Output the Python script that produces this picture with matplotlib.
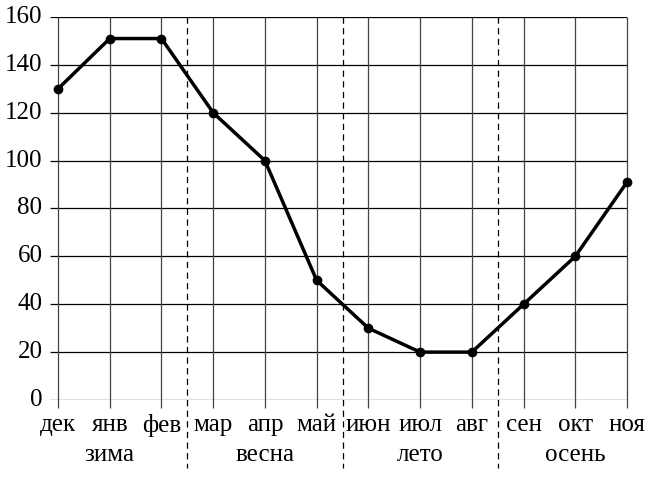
import matplotlib.pyplot as plt
import numpy as np

plt.rcParams['font.family'] = ['Liberation Serif', 'DejaVu Serif']

months = ['дек', 'янв', 'фев', 'мар', 'апр', 'май',
          'июн', 'июл', 'авг', 'сен', 'окт', 'ноя']
values = [130, 151, 151, 120, 100, 50, 30, 20, 20, 40, 60, 91]
seasons = ['зима', 'весна', 'лето', 'осень']
yticks = np.arange(0, 161, 20)

x = np.arange(len(months))

fig = plt.figure(figsize=(6.49, 4.78), dpi=100)
ax = fig.add_axes([50 / 649, 78 / 478, 577 / 649, 383 / 478])
ax.set_xlim(-0.155, len(months) - 1)
ax.set_ylim(0, 160)
ax.axis('off')

# сетка
ax.hlines(yticks, -0.155, len(months) - 1, color='black', linewidth=0.9, zorder=1)
ax.vlines(x, -3.4, 160, color='#444444', linewidth=0.9, zorder=1, clip_on=False)

# границы сезонов
for b in [2.5, 5.5, 8.5]:
    ax.plot([b, b], [160, -28.5], color='black', linewidth=0.9,
            linestyle=(0, (5, 3.5)), clip_on=False, zorder=1)

# график
ax.plot(x, values, color='black', linewidth=2.5, marker='o', markersize=6,
        zorder=3, clip_on=False)

# подписи
fs = 18
for yt in yticks:
    ax.text(-0.3, yt, str(yt), ha='right', va='center', fontsize=fs)
for i, m in enumerate(months):
    ax.text(i, -10.5, m, ha='center', va='center', fontsize=fs)
for i, s in enumerate(seasons):
    ax.text(3 * i + 1, -23, s, ha='center', va='center', fontsize=fs)

fig.savefig('out.png', dpi=100)
